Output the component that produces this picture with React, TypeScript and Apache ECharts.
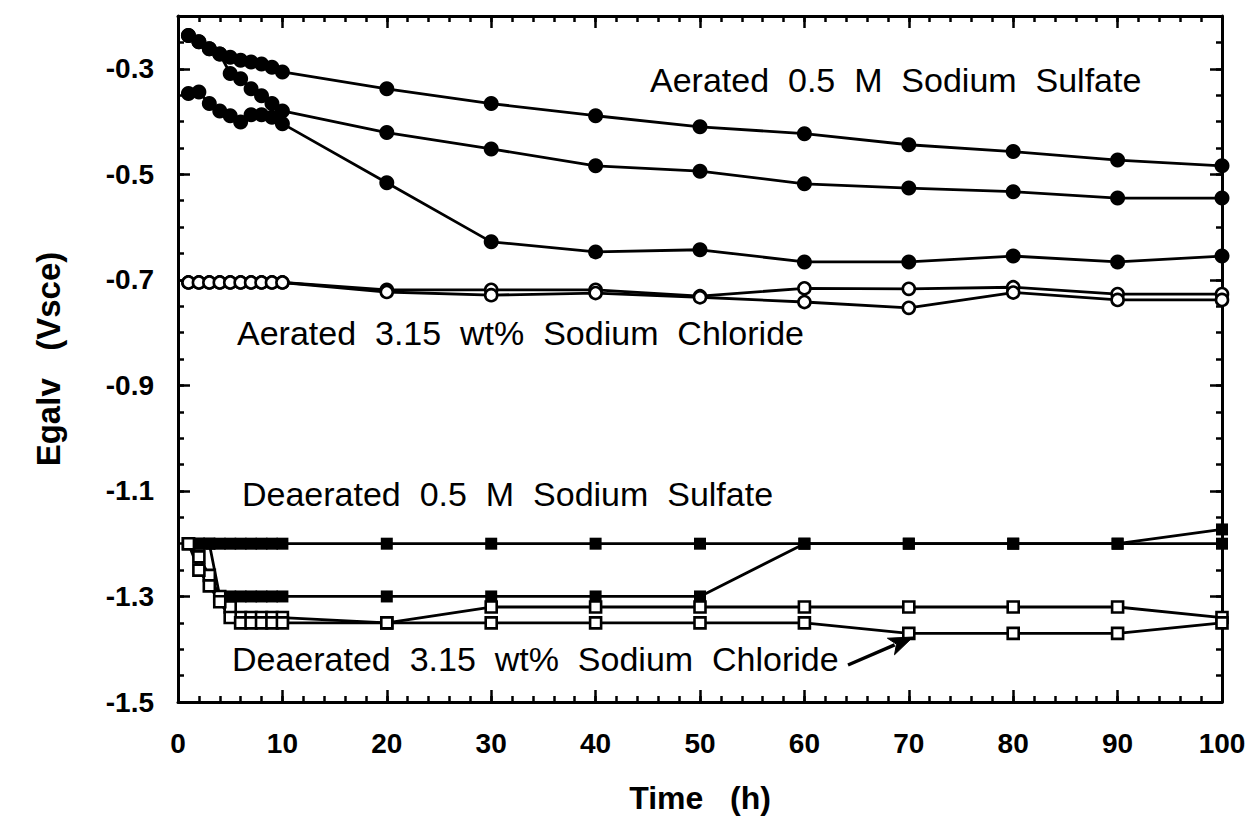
import React, { useEffect, useRef } from "react";
import * as echarts from "echarts";

// ---------- data ----------
const hours = [1, 2, 3, 4, 5, 6, 7, 8, 9, 10, 20, 30, 40, 50, 60, 70, 80, 90, 100];

// Aerated 0.5 M sodium sulfate (filled circles)
const aerSulfate1 = [-0.237, -0.249, -0.262, -0.272, -0.278, -0.284, -0.287, -0.291, -0.297, -0.306, -0.338, -0.366, -0.389, -0.41, -0.423, -0.444, -0.457, -0.473, -0.484];
const aerSulfate2 = [-0.237, -0.249, -0.262, -0.272, -0.309, -0.319, -0.338, -0.351, -0.366, -0.38, -0.421, -0.452, -0.484, -0.494, -0.518, -0.526, -0.533, -0.545, -0.545];
const aerSulfate3 = [-0.347, -0.344, -0.366, -0.38, -0.389, -0.401, -0.387, -0.387, -0.392, -0.404, -0.516, -0.628, -0.647, -0.643, -0.666, -0.666, -0.655, -0.666, -0.655];

// Aerated 3.15 wt% sodium chloride (open circles)
const aerChloride1 = [-0.705, -0.705, -0.705, -0.705, -0.705, -0.705, -0.705, -0.705, -0.705, -0.705, -0.719, -0.719, -0.719, -0.731, -0.716, -0.717, -0.714, -0.727, -0.727];
const aerChloride2 = [-0.705, -0.705, -0.705, -0.705, -0.705, -0.705, -0.705, -0.705, -0.705, -0.705, -0.723, -0.729, -0.725, -0.733, -0.742, -0.753, -0.724, -0.738, -0.738];

// Deaerated 0.5 M sodium sulfate (filled squares)
const deaSulfate1 = [-1.2, -1.2, -1.2, -1.2, -1.2, -1.2, -1.2, -1.2, -1.2, -1.2, -1.2, -1.2, -1.2, -1.2, -1.2, -1.2, -1.2, -1.2, -1.2];
const deaSulfate2 = [-1.2, -1.2, -1.2, -1.3, -1.3, -1.3, -1.3, -1.3, -1.3, -1.3, -1.3, -1.3, -1.3, -1.3, -1.2, -1.2, -1.2, -1.2, -1.173];

// Deaerated 3.15 wt% sodium chloride (open squares)
const deaChloride1 = [-1.2, -1.225, -1.26, -1.3, -1.32, -1.34, -1.34, -1.34, -1.34, -1.34, -1.35, -1.32, -1.32, -1.32, -1.32, -1.32, -1.32, -1.32, -1.34];
const deaChloride2 = [-1.2, -1.25, -1.28, -1.31, -1.34, -1.35, -1.35, -1.35, -1.35, -1.35, -1.35, -1.35, -1.35, -1.35, -1.35, -1.37, -1.37, -1.37, -1.35];

// ticks
const xLabelValues = [0, 10, 20, 30, 40, 50, 60, 70, 80, 90, 100];
const yLabelValues = [-1.5, -1.3, -1.1, -0.9, -0.7, -0.5, -0.3];

const annotations = [
  { text: "Aerated  0.5  M  Sodium  Sulfate", x: 650, y: 80 },
  { text: "Aerated  3.15  wt%  Sodium  Chloride", x: 237, y: 333 },
  { text: "Deaerated  0.5  M  Sodium  Sulfate", x: 242, y: 494 },
  { text: "Deaerated  3.15  wt%  Sodium  Chloride", x: 232, y: 659 },
];

const FONT = '"Liberation Sans", Arial, Helvetica, sans-serif';
const BLACK = "#000";

function pairs(values: number[]) {
  return hours.map((h, i) => [h, values[i]]);
}

function makeSeries(values: number[], kind: "fc" | "oc" | "fs" | "os") {
  const open = kind === "oc" || kind === "os";
  const symbol = kind === "fc" || kind === "oc" ? "circle" : "rect";
  const size = kind === "fc" ? 15 : kind === "fs" ? 12 : kind === "oc" ? 12 : 11;
  return {
    type: "line",
    data: pairs(values),
    xAxisIndex: 0,
    yAxisIndex: 0,
    symbol,
    symbolSize: size,
    showSymbol: true,
    lineStyle: { color: BLACK, width: 2.8 },
    itemStyle: open
      ? { color: "#fff", borderColor: BLACK, borderWidth: 2.6 }
      : { color: BLACK, borderColor: BLACK, borderWidth: 0 },
    emphasis: { disabled: true },
  };
}

const lineStyle = { color: BLACK, width: 3 };
const tickStyle = { color: BLACK, width: 2.5 };

function xAxisPair(position: "bottom" | "top", withLabels: boolean) {
  const base = {
    type: "value",
    min: 0,
    max: 100,
    interval: 2,
    position,
    splitLine: { show: false },
  };
  return [
    {
      ...base,
      axisLine: { show: true, onZero: false, lineStyle },
      axisTick: { show: true, inside: true, length: 6, lineStyle: tickStyle },
      axisLabel: withLabels
        ? {
            show: true,
            customValues: xLabelValues,
            color: BLACK,
            fontSize: 28,
            fontWeight: "bold",
            fontFamily: FONT,
            margin: 27,
          }
        : { show: false },
      ...(withLabels
        ? {
            name: "Time   (h)",
            nameLocation: "middle",
            nameGap: 80,
            nameTextStyle: { color: BLACK, fontSize: 32, fontWeight: "bold", fontFamily: FONT },
          }
        : {}),
    },
    {
      ...base,
      axisLine: { show: false, onZero: false },
      axisTick: { show: true, inside: true, length: 12, customValues: xLabelValues, lineStyle: tickStyle },
      axisLabel: { show: false },
    },
  ];
}

function yAxisPair(position: "left" | "right", withLabels: boolean) {
  const base = {
    type: "value",
    min: -1.5,
    max: -0.2,
    interval: 0.05,
    position,
    splitLine: { show: false },
  };
  return [
    {
      ...base,
      axisLine: { show: true, onZero: false, lineStyle },
      axisTick: { show: true, inside: true, length: 6, lineStyle: tickStyle },
      axisLabel: withLabels
        ? {
            show: true,
            customValues: yLabelValues,
            formatter: (v: number) => v.toFixed(1),
            color: BLACK,
            fontSize: 28,
            fontWeight: "bold",
            fontFamily: FONT,
            margin: 24,
          }
        : { show: false },
      ...(withLabels
        ? {
            name: "Egalv   (Vsce)",
            nameLocation: "middle",
            nameGap: 113,
            nameTextStyle: { color: BLACK, fontSize: 33, fontWeight: "bold", fontFamily: FONT },
          }
        : {}),
    },
    {
      ...base,
      axisLine: { show: false, onZero: false },
      axisTick: { show: true, inside: true, length: 12, customValues: yLabelValues, lineStyle: tickStyle },
      axisLabel: { show: false },
    },
  ];
}

// arrow annotation geometry (pixels)
const arrowTail = [848, 665];
const arrowTip = [913, 637];

function arrowGraphics() {
  const dx = arrowTip[0] - arrowTail[0];
  const dy = arrowTip[1] - arrowTail[1];
  const len = Math.hypot(dx, dy);
  const ux = dx / len;
  const uy = dy / len;
  const headLen = 24;
  const half = 9;
  const bx = arrowTip[0] - ux * headLen;
  const by = arrowTip[1] - uy * headLen;
  const px = -uy;
  const py = ux;
  return [
    {
      type: "line",
      shape: { x1: arrowTail[0], y1: arrowTail[1], x2: bx + ux * 4, y2: by + uy * 4 },
      style: { stroke: BLACK, lineWidth: 3.5 },
      z: 100,
    },
    {
      type: "polygon",
      shape: {
        points: [
          [arrowTip[0], arrowTip[1]],
          [bx + px * half, by + py * half],
          [bx + ux * 6, by + uy * 6],
          [bx - px * half, by - py * half],
        ],
      },
      style: { fill: BLACK, stroke: BLACK, lineWidth: 1 },
      z: 100,
    },
  ];
}

export default function App() {
  const ref = useRef<HTMLDivElement>(null);
  useEffect(() => {
    if (!ref.current) return;
    const chart = echarts.init(ref.current, null, { renderer: "svg" });
    const option: any = {
      animation: false,
      backgroundColor: "#fff",
      grid: { left: 178, right: 36, top: 16, bottom: 123, containLabel: false },
      xAxis: [...xAxisPair("bottom", true), ...xAxisPair("top", false)],
      yAxis: [...yAxisPair("left", true), ...yAxisPair("right", false)],
      series: [
        makeSeries(aerSulfate1, "fc"),
        makeSeries(aerSulfate2, "fc"),
        makeSeries(aerSulfate3, "fc"),
        makeSeries(aerChloride1, "oc"),
        makeSeries(aerChloride2, "oc"),
        makeSeries(deaSulfate1, "fs"),
        makeSeries(deaSulfate2, "fs"),
        makeSeries(deaChloride1, "os"),
        makeSeries(deaChloride2, "os"),
      ],
      graphic: [
        ...annotations.map((a) => ({
          type: "text",
          x: a.x,
          y: a.y,
          z: 100,
          style: {
            text: a.text,
            fill: BLACK,
            fontSize: 34,
            fontFamily: FONT,
            textVerticalAlign: "middle",
            verticalAlign: "middle",
            align: "left",
          },
        })),
        ...arrowGraphics(),
      ],
    };
    chart.setOption(option);
    return () => chart.dispose();
  }, []);
  return (
    <div
      ref={ref}
      style={{ position: "absolute", left: 0, top: 0, width: 1258, height: 825 }}
    />
  );
}
